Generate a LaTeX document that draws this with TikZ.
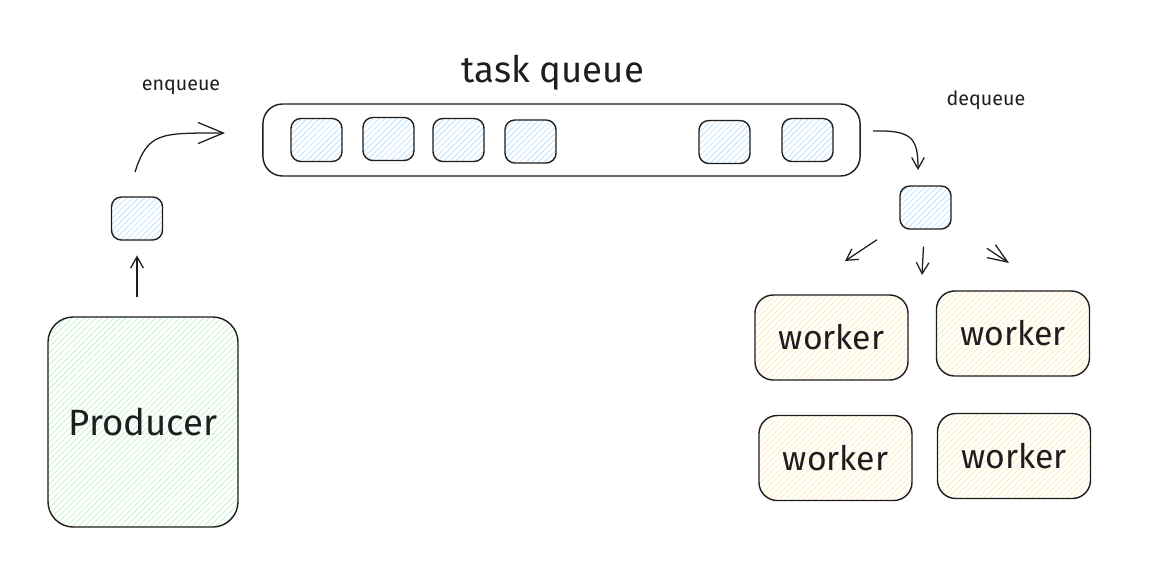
\documentclass[tikz,border=0pt]{standalone}
\usepackage{fontspec}
\setmainfont{Fira Sans}
\usetikzlibrary{arrows.meta, positioning, patterns.meta}
\definecolor{inkgray}{RGB}{30, 30, 30}
\definecolor{taskblue}{RGB}{180, 222, 255}
\definecolor{prodgreen}{RGB}{190, 240, 200}
\definecolor{workyellow}{RGB}{255, 234, 170}

\begin{document}
\begin{tikzpicture}[
      x=0.025cm, y=-0.025cm,
      hatch/.style={pattern={Lines[angle=45, distance=3pt, line width=0.45pt]}, pattern color=#1},
      box/.style={rectangle, draw=inkgray, line width=1pt, inner sep=0pt, align=center, text=inkgray},
      task/.style={box, hatch=taskblue, rounded corners=7pt, minimum width=1.275cm, minimum height=1.075cm},
      prod/.style={box, hatch=prodgreen, rounded corners=18pt, minimum width=4.75cm, minimum height=5.25cm, font=\fontsize{26}{30}\selectfont},
      worker/.style={box, hatch=workyellow, rounded corners=13pt, minimum width=3.825cm, minimum height=2.125cm, font=\fontsize{24}{28}\selectfont},
      lbl/.style={inner sep=0pt, text=inkgray, font=\fontsize{14}{16}\selectfont},
      arr/.style={-{Straight Barb[length=8pt, width=9pt]}, line width=0.9pt, draw=inkgray},
      bigtip/.style={-{Straight Barb[length=18pt, width=15pt]}}
    ]
      \useasboundingbox[fill=white] (0,0) rectangle (1160,587);

      % producer side
      \node[prod] (producer) at (143,422) {Producer};
      \node[task] (ptask) at (137,218.5) {};

      % the queue and what sits in it
      \node[box, rounded corners=14pt, minimum width=14.925cm, minimum height=1.8cm] (queue) at (561.5,140) {};
      \node[lbl, font=\fontsize{26}{30}\selectfont] (qtitle) at (553,73) {task queue};
      \foreach \i/\x/\y in {1/316.5/140, 2/388.5/139, 3/458.5/140, 4/530.5/141.5, 5/724.5/142, 6/807.5/140}
        \node[task] (q\i) at (\x,\y) {};

      \node[lbl] (enq) at (181,87) {enqueue};
      \node[lbl] (deq) at (986,100) {dequeue};

      % consumer side
      \node[task] (dtask) at (925.5,207.5) {};
      \node[worker] (w1) at (831.5,337.5) {worker};
      \node[worker] (w2) at (1013,333.5) {worker};
      \node[worker] (w3) at (835.5,458) {worker};
      \node[worker] (w4) at (1014,456) {worker};

      % free arrow ends
      \coordinate (enqA) at (135,172);
      \coordinate (enqB) at (225,133);
      \coordinate (deqA) at (873,131);
      \coordinate (deqB) at (918,170);
      \coordinate (toW1) at (845,261);
      \coordinate (toW2) at (922,275);
      \coordinate (toW3) at (1009,263);

      \draw[arr, shorten <=14pt, shorten >=10.5pt] (ptask |- producer.north) -- (ptask.south);
      \draw[arr, bigtip] (enqA) .. controls (148,132) and (160,133) .. (enqB);
      \draw[arr] (deqA) .. controls (912,130) and (918,138) .. (deqB);
      \draw[arr, shorten <=19pt] (dtask) -- (toW1);
      \draw[arr, shorten <=12pt] (dtask) -- (toW2);
      \draw[arr, shorten <=30pt, -{Straight Barb[length=14pt, width=11pt]}] (dtask) -- (toW3);
    \end{tikzpicture}
\end{document}
